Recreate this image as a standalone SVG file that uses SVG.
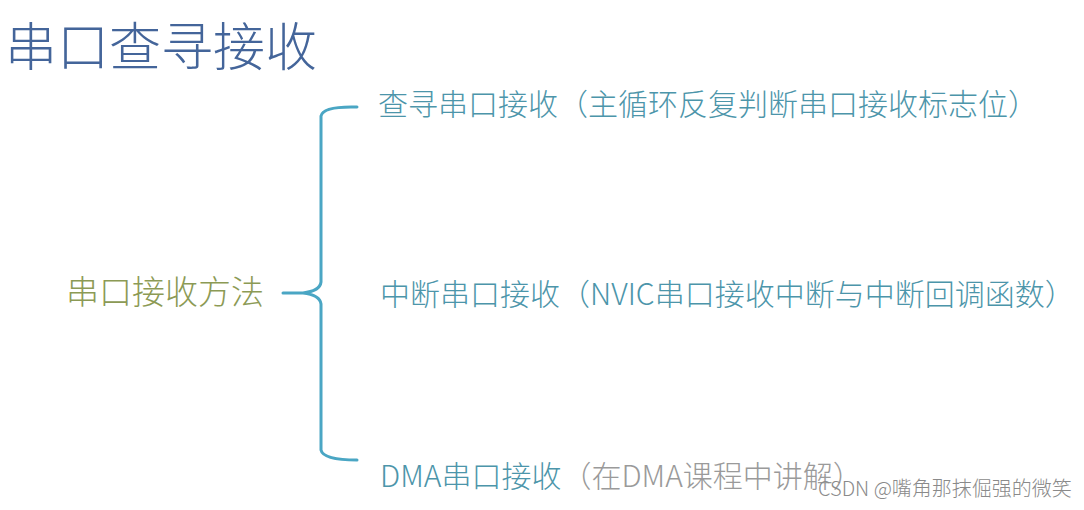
<svg xmlns="http://www.w3.org/2000/svg" width="1084" height="510" viewBox="0 0 1084 510">
<style>
text{font-family:"Noto Sans CJK SC","Noto Sans",sans-serif;font-weight:300;}
.title{font-size:52px;fill:#44659a;}
.root{font-size:33px;fill:#8c9a55;}
.item{font-size:30px;fill:#4c95aa;}
.note{fill:#9a9a9a;}
.wm{font-size:20px;fill:#8a8a8a;}
.brace{fill:none;stroke:#4aa6c4;stroke-width:3;stroke-linecap:round;stroke-linejoin:round;}
</style>
<rect width="1084" height="510" fill="#ffffff"/>
<g id="title"><text class="title" x="5" y="66">串口查寻接收</text></g>
<g id="root"><text class="root" x="66" y="304">串口接收方法</text></g>
<g id="connectors">
<path class="brace" d="M357,107 Q323,106 321,116 L321,282 Q320,291 303,293 L283,293 L303,293 Q320,295 321,304 L321,450 Q323,460 357,460"/>
</g>
<g id="item1"><text class="item" x="378" y="115">查寻串口接收（主循环反复判断串口接收标志位）</text></g>
<g id="item2"><text class="item" x="380" y="305">中断串口接收（NVIC串口接收中断与中断回调函数）</text></g>
<g id="item3"><text class="item" x="380" y="487">DMA串口接收<tspan class="note">（在DMA课程中讲解）</tspan></text></g>
<g id="watermark"><text class="wm" x="818" y="496">CSDN @嘴角那抹倔强的微笑</text></g>
</svg>
